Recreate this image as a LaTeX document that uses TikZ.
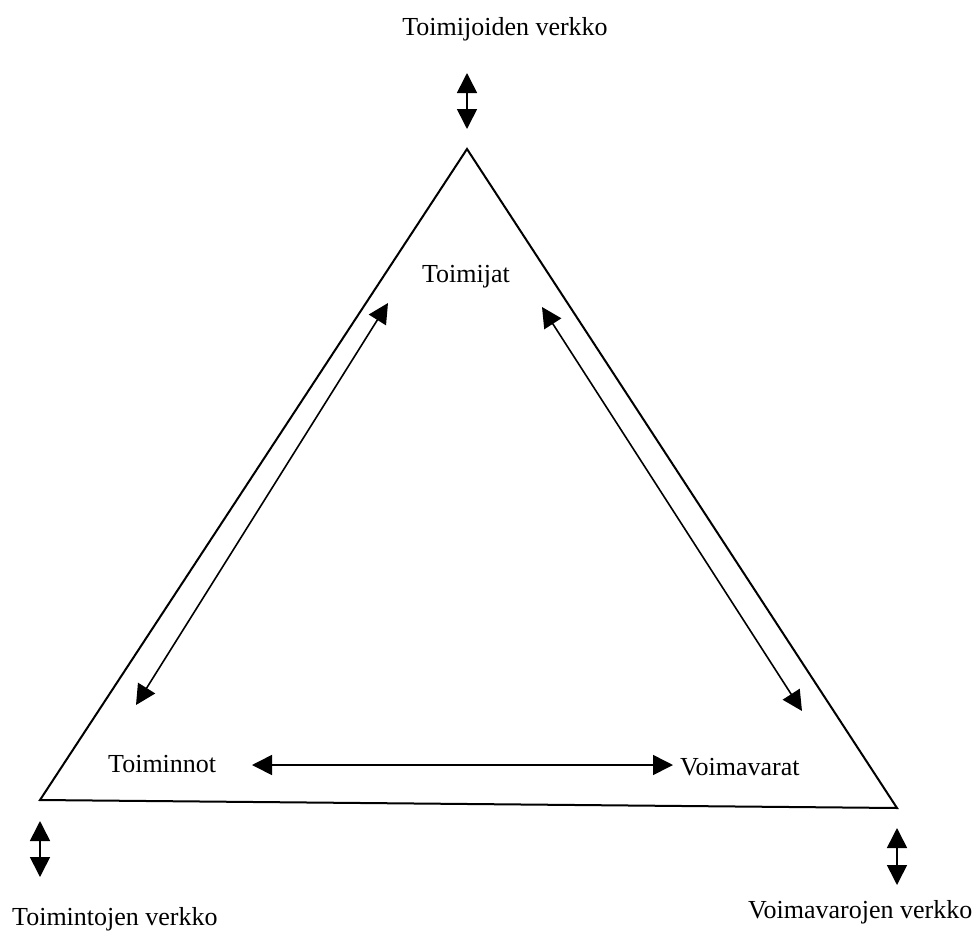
\documentclass[tikz,border=0pt]{standalone}
\usepackage{fontspec}
\setmainfont{Liberation Serif}
\usetikzlibrary{arrows.meta}
\begin{document}
\begin{tikzpicture}[x=1pt,y=-1pt,
  lbl/.style={inner sep=0pt,font=\fontsize{26}{30}\selectfont},
  edge/.style={line width=2pt,line join=miter},
  dbl/.style={line width=1.6pt,{Triangle[length=20pt,width=20pt]}-{Triangle[length=20pt,width=20pt]}}]
\useasboundingbox (0,0) rectangle (978,935);
% triangle vertices
\coordinate (A) at (467,149);
\coordinate (B) at (40,800);
\coordinate (C) at (897,808);
\draw[edge] (A) -- (B) -- (C) -- cycle;
% labels
\node[lbl,anchor=base] (tv) at (505,35) {Toimijoiden verkko};
\node[lbl,anchor=base] (t) at (466,282) {Toimijat};
\node[lbl,anchor=base west] (tn) at (108,772) {Toiminnot};
\node[lbl,anchor=base west] (vv) at (680,775) {Voimavarat};
\node[lbl,anchor=base west] (tov) at (12,925) {Toimintojen verkko};
\node[lbl,anchor=base west] (vov) at (748,918) {Voimavarojen verkko};
% outer small arrows
\coordinate (a1) at (467,73);  \coordinate (a2) at (467,129);
\coordinate (b1) at (40,821);  \coordinate (b2) at (40,877);
\coordinate (c1) at (897,828); \coordinate (c2) at (897,885);
\draw[dbl] (a1) -- (a2);
\draw[dbl] (b1) -- (b2);
\draw[dbl] (c1) -- (c2);
% inner arrows
\coordinate (l1) at (388,303); \coordinate (l2) at (136,705);
\coordinate (r1) at (542,307); \coordinate (r2) at (802,711);
\coordinate (h1) at (252,765); \coordinate (h2) at (673,765);
\draw[dbl] (l1) -- (l2);
\draw[dbl] (r1) -- (r2);
\draw[dbl] (h1) -- (h2);
\end{tikzpicture}
\end{document}
